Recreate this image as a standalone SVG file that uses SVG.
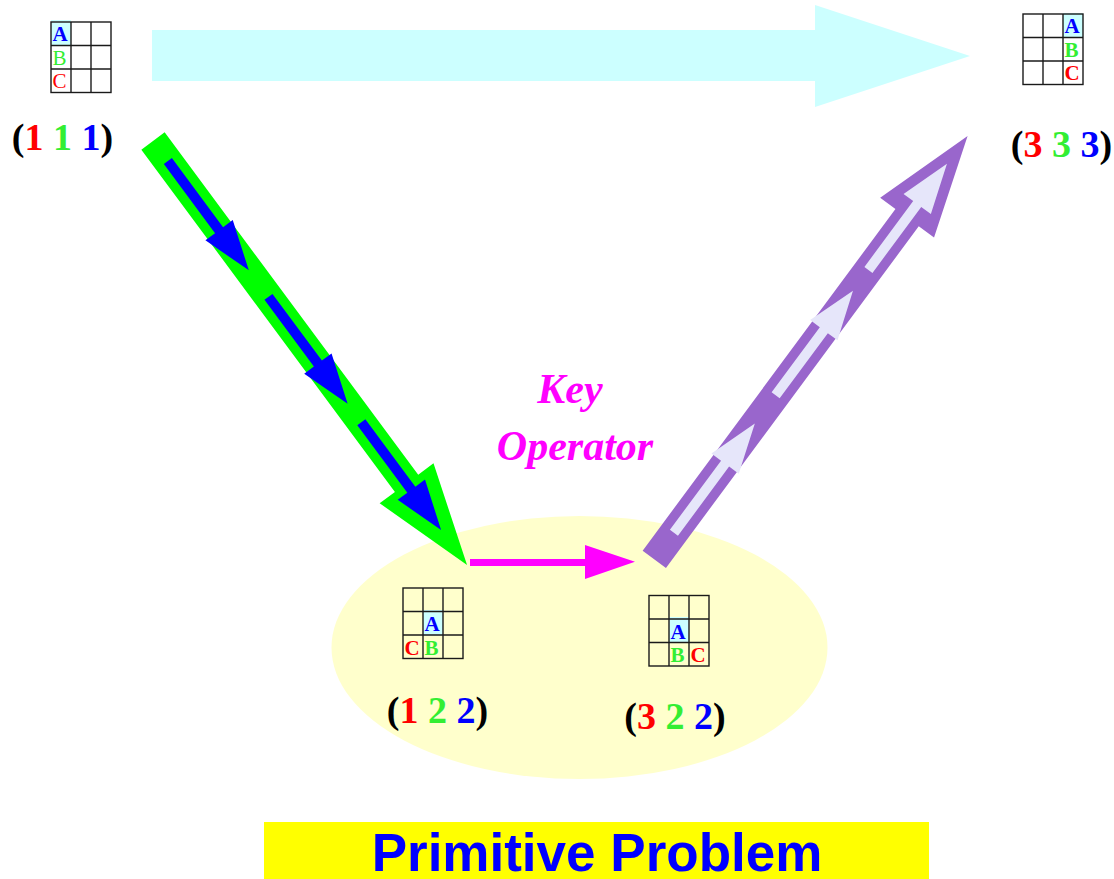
<svg xmlns="http://www.w3.org/2000/svg" width="1114" height="879" viewBox="0 0 1114 879">
<style>
.g line,.g rect.f{stroke:#1a1a1a;stroke-width:1.4;fill:none}
.cell{fill:#CCFFFF}
.lt{font-family:"Liberation Serif","Times New Roman",serif;font-size:21px;font-weight:bold}
.lr{font-family:"Liberation Serif","Times New Roman",serif;font-size:21px}
.lab{font-family:"Liberation Serif","Times New Roman",serif;font-size:38px;font-weight:bold;text-anchor:middle}
.r{fill:#FF0000}.gr{fill:#33EE33}.b{fill:#0000FF}.k{fill:#000}
</style>
<defs>
<g id="grid" class="g">
<rect class="f" x="0" y="0" width="60" height="70.5"/>
<line x1="20" y1="0" x2="20" y2="70.5"/>
<line x1="40" y1="0" x2="40" y2="70.5"/>
<line x1="0" y1="23.5" x2="60" y2="23.5"/>
<line x1="0" y1="47" x2="60" y2="47"/>
</g>
</defs>
<rect width="1114" height="879" fill="#fff"/>
<ellipse id="primitive-region" cx="579.5" cy="647.5" rx="248" ry="131.5" fill="#FFFFCC"/>
<g id="connectors">
<polygon fill="#CCFFFF" points="152,30 815,30 815,5 970,56 815,107 815,81 152,81"/>
<g transform="translate(153,141) rotate(53.47)">
<polygon fill="#00FF00" points="0,-14.5 426,-14.5 426,-33.5 527.6,0 426,33.5 426,14.5 0,14.5"/>
<polygon fill="#0000FF" points="25,-5 111,-5 111,-17 161,0 111,17 111,5 25,5"/>
<polygon fill="#0000FF" points="194,-5 277,-5 277,-17 327,0 277,17 277,5 194,5"/>
<polygon fill="#0000FF" points="350,-5 434,-5 434,-17 484,0 434,17 434,5 350,5"/>
</g>
<g transform="translate(654.3,559.3) rotate(-53.5)">
<polygon fill="#9966CC" points="0,-14.5 425,-14.5 425,-33.5 526.7,0 425,33.5 425,14.5 0,14.5"/>
<polygon fill="#E6E6FA" points="33,-5 119,-5 119,-17 169,0 119,17 119,5 33,5"/>
<polygon fill="#E6E6FA" points="204,-5 285,-5 285,-17 334,0 285,17 285,5 204,5"/>
<polygon fill="#E6E6FA" points="360,-5 442,-5 442,-17 492,0 442,17 442,5 360,5"/>
</g>
<polygon fill="#FF00FF" points="470,559 585,559 585,545 635,561.7 585,579 585,566 470,566"/>
</g>
<g id="key-operator" font-family="'Liberation Serif','Times New Roman',serif" font-size="42" font-weight="bold" font-style="italic" fill="#FF00FF" text-anchor="middle">
<text x="570" y="403">Key</text>
<text x="575" y="460">Operator</text>
</g>
<g id="state-111">
<rect class="cell" x="51" y="20" width="20" height="25.5"/>
<use href="#grid" x="51" y="22"/>
<text class="lt b" x="52.5" y="41">A</text>
<text class="lr gr" x="52.5" y="64.5">B</text>
<text class="lr r" x="52.5" y="88">C</text>
<text class="lab" x="62.5" y="150"><tspan class="k">(</tspan><tspan class="r">1</tspan> <tspan class="gr">1</tspan> <tspan class="b">1</tspan><tspan class="k">)</tspan></text>
</g>
<g id="state-333">
<rect class="cell" x="1063" y="13" width="20" height="24.5"/>
<use href="#grid" x="1023" y="14"/>
<text class="lt b" x="1064.5" y="33">A</text>
<text class="lt gr" x="1064.5" y="56.5">B</text>
<text class="lt r" x="1064.5" y="80">C</text>
<text class="lab" x="1061.5" y="157"><tspan class="k">(</tspan><tspan class="r">3</tspan> <tspan class="gr">3</tspan> <tspan class="b">3</tspan><tspan class="k">)</tspan></text>
</g>
<g id="state-122">
<rect class="cell" x="423" y="610" width="20" height="25.5"/>
<use href="#grid" x="403" y="588"/>
<text class="lt b" x="424.5" y="631">A</text>
<text class="lt r" x="404.5" y="654.5">C</text>
<text class="lt gr" x="424.5" y="654.5">B</text>
<text class="lab" x="437.5" y="723"><tspan class="k">(</tspan><tspan class="r">1</tspan> <tspan class="gr">2</tspan> <tspan class="b">2</tspan><tspan class="k">)</tspan></text>
</g>
<g id="state-322">
<rect class="cell" x="669" y="617" width="20" height="25.5"/>
<use href="#grid" x="649" y="595.5"/>
<text class="lt b" x="670.5" y="638.5">A</text>
<text class="lt gr" x="670.5" y="662">B</text>
<text class="lt r" x="690.5" y="662">C</text>
<text class="lab" x="675" y="729"><tspan class="k">(</tspan><tspan class="r">3</tspan> <tspan class="gr">2</tspan> <tspan class="b">2</tspan><tspan class="k">)</tspan></text>
</g>
<g id="title">
<rect x="264" y="822" width="665" height="57" fill="#FFFF00"/>
<text x="597" y="871" font-family="'Liberation Sans',Arial,sans-serif" font-size="53" font-weight="bold" fill="#0000FF" text-anchor="middle">Primitive Problem</text>
</g>
</svg>
